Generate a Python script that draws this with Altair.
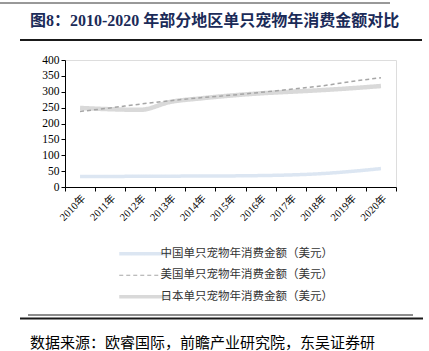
import altair as alt
import pandas as pd

years = ["2010年", "2011年", "2012年", "2013年", "2014年", "2015年",
         "2016年", "2017年", "2018年", "2019年", "2020年"]
china = [33, 33, 34, 34, 35, 35, 36, 38, 42, 49, 58]
usa = [238, 249, 261, 272, 281, 289, 298, 308, 318, 332, 344]
japan = [249, 245, 243, 268, 279, 288, 295, 300, 305, 311, 318]
series = ["中国单只宠物年消费金额（美元）", "美国单只宠物年消费金额（美元）", "日本单只宠物年消费金额（美元）"]
colors = ["#dce6f2", "#a6a6a6", "#d9d9d9"]
dashes = [[1, 0], [4, 3], [1, 0]]
widths = [3.5, 1.5, 4.5]

rows = []
for name, vals in zip(series, [china, usa, japan]):
    for y, v in zip(years, vals):
        rows.append({"year": y, "value": v, "series": name})
df = pd.DataFrame(rows)

serif = "Liberation Serif, Noto Sans CJK SC"
cjk = "Noto Sans CJK SC"

W, H = 331, 127
PL, PT = 65, 60

legend = alt.Legend(orient="none", legendX=74, legendY=188, direction="vertical",
                    title=None, symbolType="stroke", symbolSize=2600,
                    symbolStrokeWidth=alt.ExprRef(expr=f"datum.value == '{series[1]}' ? 1.2 : 3.5"),
                    labelFont=cjk, labelFontSize=11.5, labelColor="#333333", labelLimit=0,
                    rowPadding=7.5, labelOffset=10)

xenc = alt.X("year:O", sort=years, scale=alt.Scale(type="band", paddingInner=0, paddingOuter=0),
             axis=alt.Axis(title=None, labelAngle=-45, tickBand="extent", labelFont=serif,
                           labelFontSize=10.5, labelColor="#000000", domainColor="#000000",
                           tickColor="#000000", tickSize=4, labelPadding=2))
yenc = alt.Y("value:Q", scale=alt.Scale(domain=[0, 400], nice=False),
             axis=alt.Axis(title=None, values=list(range(0, 401, 50)), grid=False,
                           labelFont=serif, labelFontSize=11.5, labelColor="#000000",
                           domainColor="#000000", tickColor="#000000", tickSize=4,
                           labelPadding=2))
cenc = alt.Color("series:N", sort=series, scale=alt.Scale(domain=series, range=colors), legend=legend)
denc = alt.StrokeDash("series:N", sort=series, scale=alt.Scale(domain=series, range=dashes), legend=legend)

line_layers = []
for name, w in zip(series, widths):
    line_layers.append(
        alt.Chart(df).transform_filter(alt.datum.series == name)
        .mark_line(interpolate="monotone", strokeWidth=w)
        .encode(x=xenc, y=yenc, color=cenc, strokeDash=denc)
    )
# draw order: China, Japan, then US dashed on top
line_layers = [line_layers[0], line_layers[2], line_layers[1]]

title = alt.Chart().mark_text(align="left", baseline="middle", font=serif, fontSize=16,
                               fontWeight="bold", color="#1b2b58").encode(
    x=alt.value(30 - PL), y=alt.value(21 - PT), text=alt.value("图8：2010-2020 年部分地区单只宠物年消费金额对比"))

source = alt.Chart().mark_text(align="left", baseline="middle", font=cjk, fontSize=15,
                                color="#000000").encode(
    x=alt.value(30 - PL), y=alt.value(343 - PT), text=alt.value("数据来源：欧睿国际，前瞻产业研究院，东吴证券研"))

top_rule = alt.Chart().mark_rule(color="#333333", strokeWidth=1).encode(
    x=alt.value(0 - PL), x2=alt.value(390 - PL), y=alt.value(3 - PT))
title_rule = alt.Chart().mark_rule(color="#1a1a1a", strokeWidth=2).encode(
    x=alt.value(20 - PL), x2=alt.value(422 - PL), y=alt.value(40 - PT))
foot_thin = alt.Chart().mark_rule(color="#1a1a1a", strokeWidth=1).encode(
    x=alt.value(28 - PL), x2=alt.value(413 - PL), y=alt.value(315 - PT))
foot_thick = alt.Chart().mark_rule(color="#1a1a1a", strokeWidth=2).encode(
    x=alt.value(20 - PL), x2=alt.value(423 - PL), y=alt.value(318.5 - PT))

chart = alt.layer(*line_layers, title, source, top_rule, title_rule, foot_thin, foot_thick).properties(
    width=W, height=H,
    autosize=alt.AutoSizeParams(type="none"),
    padding={"left": PL, "top": PT, "right": 429 - PL - W, "bottom": 351 - PT - H},
).configure_view(stroke=None).configure(background="white")

chart.save("out.html", embed_options={"renderer": "svg", "actions": False})
